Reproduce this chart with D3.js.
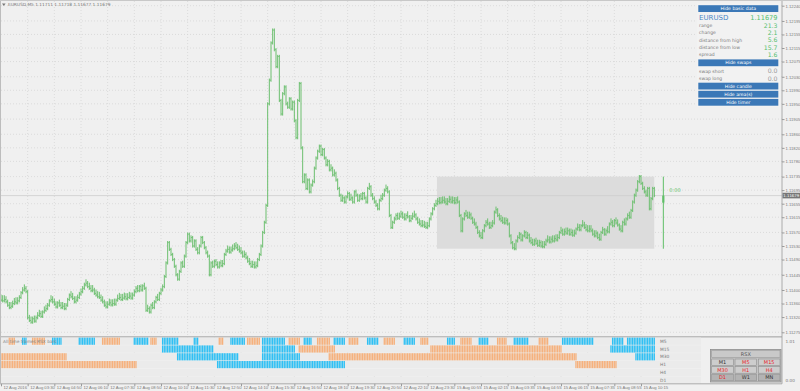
<!DOCTYPE html>
<html>
<head>
<meta charset="utf-8">
<script src="https://cdn.jsdelivr.net/npm/d3@7"></script>
<style>
html, body { margin: 0; padding: 0; background: #f0f0f0; overflow: hidden; }
svg { display: block; font-family: "DejaVu Sans", "Liberation Sans", sans-serif; }
</style>
</head>
<body>
<svg id="chart" width="800" height="391"></svg>
<script>
'use strict';

// ---- data ----
const SYMBOL = "EURUSD,M5";
const headerOHLC = ["1.11711", "1.11718", "1.11677", "1.11679"];

// M5 closes, in points above 1.11000 (12 Aug 02:10 .. 15 Aug 10:55)
const closePts = [
	370, 368, 372, 365, 355, 348, 352, 360, 365, 362, 368, 378, 392, 400, 405, 395,
	318, 310, 305, 315, 308, 318, 325, 330, 322, 335, 340, 345, 355, 368, 372, 365,
	358, 350, 362, 355, 348, 352, 345, 355, 372, 385, 380, 375, 365, 370, 378, 388,
	395, 405, 415, 420, 410, 405, 398, 400, 390, 385, 380, 378, 370, 365, 355, 350,
	358, 362, 356, 360, 358, 370, 375, 378, 372, 376, 380, 374, 378, 382, 376, 385,
	395, 405, 398, 410, 400, 412, 405, 340, 345, 335, 355, 348, 365, 378, 372, 390,
	400, 410, 440, 480, 540, 520, 505, 490, 470, 445, 432, 455, 480, 470, 500, 540,
	565, 545, 555, 530, 545, 520, 510, 530, 555, 540, 525, 510, 500, 445, 480, 470,
	485, 475, 468, 480, 472, 478, 505, 515, 520, 512, 518, 522, 530, 525, 520, 515,
	510, 500, 505, 495, 485, 478, 470, 475, 468, 472, 490, 505, 530, 570, 600, 650,
	950, 1020, 1130, 1168, 1110, 1060, 1090, 960, 920, 980, 1000, 950, 940, 965, 935, 955,
	900, 850, 960, 1010, 820, 720, 740, 700, 725, 690, 710, 720, 760, 790, 810, 825,
	800, 815, 790, 770, 780, 755, 760, 740, 745, 725, 700, 680, 665, 672, 660, 675,
	685, 668, 672, 660, 690, 680, 665, 678, 670, 685, 672, 660, 700, 705, 680, 670,
	660, 650, 640, 665, 670, 680, 695, 700, 690, 620, 585, 600, 610, 620, 612, 618,
	625, 615, 610, 620, 616, 605, 612, 618, 622, 610, 600, 595, 590, 592, 588, 585,
	590, 610, 625, 640, 650, 655, 662, 658, 660, 665, 660, 655, 662, 668, 660, 664,
	658, 666, 660, 620, 575, 610, 625, 620, 615, 622, 612, 600, 595, 585, 570, 560,
	555, 575, 590, 600, 595, 585, 590, 598, 630, 637, 620, 610, 605, 600, 598, 605,
	595, 560, 540, 525, 522, 545, 555, 565, 548, 560, 570, 555, 562, 545, 540, 535,
	545, 538, 532, 540, 530, 528, 535, 545, 548, 542, 550, 545, 552, 548, 555, 570,
	575, 565, 572, 568, 575, 565, 570, 562, 568, 580, 585, 578, 590, 592, 585, 578,
	575, 580, 575, 565, 560, 568, 555, 550, 570, 578, 565, 575, 572, 595, 600, 590,
	605, 598, 592, 580, 575, 600, 595, 610, 620, 615, 635, 660, 680, 695, 720, 735,
	715, 700, 690, 680, 700, 640, 670, 700, 679
];
const priceBase = 1.11;

const priceTicks = [
	1.12240, 1.12195, 1.12155, 1.12115, 1.12075, 1.12030, 1.11990, 1.11950,
	1.11905, 1.11860, 1.11820, 1.11780, 1.11735, 1.11695, 1.11655, 1.11615,
	1.11570, 1.11530, 1.11490, 1.11445, 1.11400, 1.11360, 1.11320, 1.11275
];

// one label every 16 bars
const timeLabels = [
	"12 Aug 2016", "12 Aug 03:30", "12 Aug 04:50", "12 Aug 06:10", "12 Aug 07:30",
	"12 Aug 08:50", "12 Aug 10:10", "12 Aug 11:30", "12 Aug 12:50", "12 Aug 14:10",
	"12 Aug 15:30", "12 Aug 16:50", "12 Aug 18:10", "12 Aug 19:30", "12 Aug 20:50",
	"12 Aug 22:10", "12 Aug 23:30", "15 Aug 00:55", "15 Aug 02:15", "15 Aug 03:35",
	"15 Aug 04:55", "15 Aug 06:15", "15 Aug 07:35", "15 Aug 08:55", "15 Aug 10:15"
];
const LABEL_EVERY = 16;

// today's range box + D1 candle
const dayStartBar = 262;
const dayHigh = 1.11735, dayLow = 1.11522, dayOpen = 1.11658, lastPrice = 1.11679;

// RSX rows: [fromBar, toBar, direction]
const rsxRowNames = ["M5", "M15", "M30", "H1", "H4", "D1"];
const rsxM5 = [
	[5, 8, "dn"], [13, 15, "up"], [19, 26, "dn"], [31, 36, "up"], [47, 56, "up"],
	[61, 71, "dn"], [80, 88, "up"], [90, 93, "dn"], [97, 106, "up"], [116, 118, "up"],
	[131, 133, "dn"], [138, 146, "up"], [148, 155, "dn"], [157, 170, "up"], [173, 179, "dn"],
	[182, 186, "up"], [190, 197, "dn"], [200, 206, "up"], [209, 214, "dn"], [220, 226, "up"],
	[230, 236, "dn"], [242, 248, "up"], [252, 256, "dn"], [268, 272, "up"], [276, 282, "dn"],
	[287, 292, "up"], [298, 303, "dn"], [308, 316, "up"], [323, 328, "dn"], [337, 355, "up"],
	[367, 373, "up"], [376, 392, "up"]
];
const rsxM15 = [[97, 127, "up"], [157, 176, "up"], [179, 200, "dn"], [258, 336, "dn"], [366, 392, "up"]];
const rsxM30 = [[0, 39, "dn"], [106, 142, "up"], [157, 179, "up"], [197, 345, "dn"], [381, 392, "up"]];
const rsxH1 = [[0, 81, "dn"], [130, 206, "up"], [345, 369, "dn"]];
const rsxH4 = [];
const rsxD1 = [];

const infoLabels = ["range", "change", "distance from high", "distance from low", "spread"];
const infoValues = ["21.3", "2.1", "5.6", "15.7", "1.6"];
const swapLabels = ["swap short", "swap long"];
const swapValues = ["0.0", "0.0"];

const rsxButtons = [["M1", "M5", "M15"], ["M30", "H1", "H4"], ["D1", "W1", "MN"]];
const rsxActive = ["M5", "M15", "M30", "H1", "H4", "D1"];

// ---- layout ----
const AXIS_X = 782;
const MAIN_BOTTOM = 336;
const SUB_TOP = 337.6, SUB_BOTTOM = 383.8;
const BAR_COLOR = "#6cbf6f";
const UP_COLOR = "#2fc0f4";
const DN_COLOR = "#f6b17c";
const GRID_COLOR = "#d6d6d6";
const TEXT_GRAY = "#7a7a7a";

const svg = d3.select("#chart");

const x = d3.scaleLinear().domain([0, 468]).range([1, 781]);
const y = d3.scaleLinear().domain([1.11275, 1.12240]).range([332.3, 5.7]);
const rowY = d3.scaleBand().domain(rsxRowNames).range([SUB_TOP, SUB_BOTTOM]).paddingInner(0.08);
const toPrice = p => priceBase + p / 100000;

svg.append("rect").attr("width", 800).attr("height", 391).attr("fill", "#f0f0f0");

// grid
const labelBars = timeLabels.map((t, i) => i * LABEL_EVERY);
const gGrid = svg.append("g")
	.attr("stroke", GRID_COLOR)
	.attr("stroke-width", 0.8)
	.attr("stroke-dasharray", "1,2");
gGrid.selectAll("line.v")
	.data(labelBars.slice(1))
	.join("line")
		.attr("x1", d => x(d)).attr("x2", d => x(d))
		.attr("y1", 1).attr("y2", SUB_BOTTOM);
gGrid.selectAll("line.h")
	.data(priceTicks)
	.join("line")
		.attr("x1", 1).attr("x2", AXIS_X)
		.attr("y1", d => y(d)).attr("y2", d => y(d));

// today's area
svg.append("rect")
	.attr("x", x(dayStartBar) - 0.7)
	.attr("y", y(dayHigh))
	.attr("width", x(closePts.length - 1) - x(dayStartBar) + 0.6)
	.attr("height", y(dayLow) - y(dayHigh))
	.attr("fill", "#dcdcdc");

// bid line
svg.append("line")
	.attr("x1", 1).attr("x2", AXIS_X)
	.attr("y1", y(lastPrice)).attr("y2", y(lastPrice))
	.attr("stroke", "#cfcfcf").attr("stroke-width", 0.8);

// OHLC bars (open = previous close)
const bars = closePts.map((c, i) => {
	const o = i > 0 ? closePts[i - 1] : c;
	return { i, o: toPrice(o), c: toPrice(c), h: toPrice(Math.max(o, c)), l: toPrice(Math.min(o, c)) };
});
const gBars = svg.append("g")
	.attr("stroke", BAR_COLOR)
	.attr("stroke-width", 1)
	.attr("fill", "none");
gBars.selectAll("path")
	.data(bars)
	.join("path")
		.attr("d", b => {
			const bx = x(b.i);
			const top = Math.min(y(b.h), y(b.l) - 4) - 1.6;
			const bot = y(b.l) + 1.6;
			return `M${bx},${top}V${bot}M${bx - 0.8},${y(b.o)}H${bx}M${bx},${y(b.c)}H${bx + 0.8}`;
		});

// D1 candle + timer
const candleX = x(closePts.length - 1) + 9;
svg.append("line")
	.attr("x1", candleX).attr("x2", candleX)
	.attr("y1", y(dayHigh)).attr("y2", y(dayLow))
	.attr("stroke", "#5fbf67").attr("stroke-width", 1);
svg.append("rect")
	.attr("x", candleX - 1.1).attr("width", 2.2)
	.attr("y", y(lastPrice)).attr("height", y(dayOpen) - y(lastPrice))
	.attr("fill", "#5fbf67");
svg.append("text")
	.attr("x", candleX + 6).attr("y", 191.5)
	.attr("font-size", 5).attr("fill", "#5fbf67")
	.text("0:00");

// header
svg.append("path").attr("d", "M2,3.4h3.6l-1.8,2.6z").attr("fill", "#777");
svg.append("text")
	.attr("x", 8).attr("y", 6.2)
	.attr("font-size", 4.3).attr("fill", TEXT_GRAY)
	.text(`${SYMBOL}  ${headerOHLC.join(" ")}`);

// info panel
const panel = svg.append("g");
panel.append("rect").attr("x", 697).attr("y", 3).attr("width", 83).attr("height", 104).attr("fill", "#f2f2f2");
function button(py, label) {
	panel.append("rect")
		.attr("x", 698.3).attr("y", py).attr("width", 80).attr("height", 6.8)
		.attr("fill", "#3b78b7");
	panel.append("text")
		.attr("x", 738.3).attr("y", py + 5).attr("text-anchor", "middle")
		.attr("font-size", 4.6).attr("fill", "#fff")
		.text(label);
}
button(5.2, "Hide basic data");
panel.append("text").attr("x", 699).attr("y", 20).attr("font-size", 7).attr("fill", "#4a87c6").text("EURUSD");
panel.append("text").attr("x", 777.5).attr("y", 20).attr("text-anchor", "end")
	.attr("font-size", 6.6).attr("fill", "#55bf6e").text(lastPrice.toFixed(5));
infoLabels.forEach((lab, k) => {
	const ly = 27 + k * 7.3;
	panel.append("text").attr("x", 699).attr("y", ly).attr("font-size", 4.6).attr("fill", TEXT_GRAY).text(lab);
	panel.append("text").attr("x", 777.5).attr("y", ly + 0.6).attr("text-anchor", "end")
		.attr("font-size", 6.2).attr("fill", "#55bf6e").text(infoValues[k]);
});
button(59.4, "Hide swaps");
swapLabels.forEach((lab, k) => {
	const ly = 72.6 + k * 7.3;
	panel.append("text").attr("x", 699).attr("y", ly).attr("font-size", 4.6).attr("fill", TEXT_GRAY).text(lab);
	panel.append("text").attr("x", 777.5).attr("y", ly + 0.6).attr("text-anchor", "end")
		.attr("font-size", 6.2).attr("fill", "#9a9a9a").text(swapValues[k]);
});
button(82.7, "Hide candle");
button(90.8, "Hide area(s)");
button(98.9, "Hide timer");

// ---- sub window ----
svg.append("rect").attr("x", 0).attr("y", MAIN_BOTTOM).attr("width", AXIS_X).attr("height", 1.6).attr("fill", "#bdbdbd");

const gRows = svg.append("g");
gRows.selectAll("rect")
	.data(rsxRowNames)
	.join("rect")
		.attr("x", 1).attr("width", 700)
		.attr("y", d => rowY(d)).attr("height", rowY.bandwidth())
		.attr("fill", "#ebebeb");

const rsxRows = { M5: rsxM5, M15: rsxM15, M30: rsxM30, H1: rsxH1, H4: rsxH4, D1: rsxD1 };
const cells = [];
rsxRowNames.forEach(row => {
	rsxRows[row].forEach(([a, b, dir]) => {
		for (let i = a; i <= b; i++) cells.push({ row, i, dir });
	});
});
svg.append("g").selectAll("rect")
	.data(cells)
	.join("rect")
		.attr("x", d => x(d.i) - 0.7)
		.attr("width", 1.3)
		.attr("y", d => rowY(d.row))
		.attr("height", rowY.bandwidth())
		.attr("fill", d => d.dir === "up" ? UP_COLOR : DN_COLOR);

svg.append("text")
	.attr("x", 3).attr("y", 342.8)
	.attr("font-size", 4.3).attr("fill", "#8a8a8a")
	.text("All time frames RSX bars");

svg.append("g").selectAll("text")
	.data(rsxRowNames)
	.join("text")
		.attr("x", 660).attr("y", d => rowY(d) + rowY.bandwidth() / 2 + 1.6)
		.attr("font-size", 4.4).attr("fill", TEXT_GRAY)
		.text(d => d);

// RSX button box
const box = svg.append("g");
box.append("rect").attr("x", 710.5).attr("y", 349.5).attr("width", 70.5).attr("height", 32.5)
	.attr("fill", "#c4c4c4").attr("stroke", "#8d8d8d").attr("stroke-width", 0.8);
box.append("rect").attr("x", 711.7).attr("y", 350.3).attr("width", 68.3).attr("height", 7)
	.attr("fill", "#c9c9c9").attr("stroke", "#9b9b9b").attr("stroke-width", 0.6);
box.append("text").attr("x", 745.8).attr("y", 355.6).attr("text-anchor", "middle")
	.attr("font-size", 5).attr("fill", "#555").text("RSX");
const colX = d3.scaleBand().domain([0, 1, 2]).range([711.7, 780]).paddingInner(0.07);
rsxButtons.forEach((r, ri) => {
	r.forEach((lab, ci) => {
		const by = 359 + ri * 7.6;
		box.append("rect")
			.attr("x", colX(ci)).attr("y", by).attr("width", colX.bandwidth()).attr("height", 6.6)
			.attr("fill", ri === 2 ? "#b3b3b3" : "#cdcdcd")
			.attr("stroke", "#8f8f8f").attr("stroke-width", 0.6);
		box.append("text")
			.attr("x", colX(ci) + colX.bandwidth() / 2).attr("y", by + 5)
			.attr("text-anchor", "middle").attr("font-size", 5)
			.attr("fill", rsxActive.includes(lab) ? "#e8262b" : "#333")
			.text(lab);
	});
});

// ---- axes ----
svg.append("line").attr("x1", AXIS_X).attr("x2", AXIS_X).attr("y1", 0).attr("y2", SUB_BOTTOM)
	.attr("stroke", "#9a9a9a").attr("stroke-width", 0.8);
svg.append("line").attr("x1", 0).attr("x2", AXIS_X).attr("y1", SUB_BOTTOM).attr("y2", SUB_BOTTOM)
	.attr("stroke", "#9a9a9a").attr("stroke-width", 0.8);
svg.append("line").attr("x1", 0.5).attr("x2", 0.5).attr("y1", 0).attr("y2", SUB_BOTTOM)
	.attr("stroke", "#bdbdbd").attr("stroke-width", 1);
svg.append("line").attr("x1", 0).attr("x2", 800).attr("y1", 0.5).attr("y2", 0.5)
	.attr("stroke", "#c8c8c8").attr("stroke-width", 1);

const yAxis = d3.axisRight(y)
	.tickValues(priceTicks)
	.tickSize(2.5)
	.tickFormat(d3.format(".5f"));
svg.append("g")
	.attr("transform", `translate(${AXIS_X},0)`)
	.call(yAxis)
	.call(g => g.select(".domain").remove())
	.call(g => g.selectAll("line").attr("stroke", "#9a9a9a"))
	.call(g => g.selectAll("text").attr("font-size", 4.2).attr("fill", TEXT_GRAY).attr("x", 3.5).attr("font-family", null));

// bid label
svg.append("rect").attr("x", AXIS_X + 0.5).attr("y", y(lastPrice) - 2.8).attr("width", 17.5).attr("height", 5.6).attr("fill", "#777");
svg.append("text").attr("x", 799.3).attr("y", y(lastPrice) + 1.4).attr("text-anchor", "end")
	.attr("font-size", 3.9).attr("fill", "#fff").text(lastPrice.toFixed(5));

// sub window scale
svg.append("text").attr("x", AXIS_X + 3.5).attr("y", 342.5).attr("font-size", 4.2).attr("fill", TEXT_GRAY).text("1.01");
svg.append("text").attr("x", AXIS_X + 3.5).attr("y", 382).attr("font-size", 4.2).attr("fill", TEXT_GRAY).text("0.00");

const xAxis = d3.axisBottom(x)
	.tickValues(labelBars)
	.tickSize(2.5)
	.tickFormat((d, k) => timeLabels[k]);
svg.append("g")
	.attr("transform", `translate(0,${SUB_BOTTOM})`)
	.call(xAxis)
	.call(g => g.select(".domain").remove())
	.call(g => g.selectAll("line").attr("stroke", "#9a9a9a"))
	.call(g => g.selectAll("text")
		.attr("font-size", 4.2).attr("fill", TEXT_GRAY).attr("font-family", null)
		.attr("text-anchor", "start").attr("dx", 2).attr("y", 2.2));
</script>
</body>
</html>
